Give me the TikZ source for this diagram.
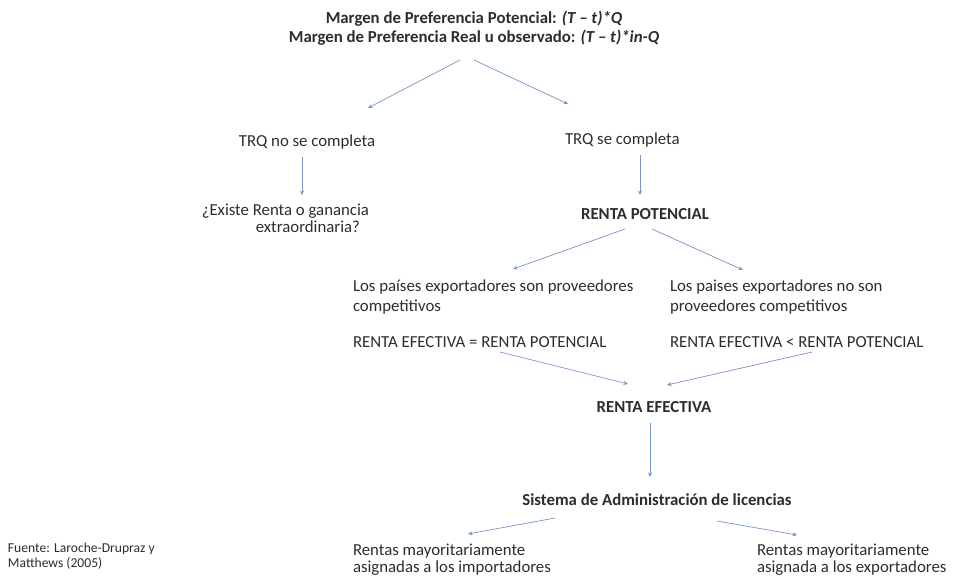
\documentclass[tikz,border=0pt]{standalone}
\usepackage{fontspec}
\setmainfont{Carlito}
\usetikzlibrary{arrows.meta,calc}
\definecolor{txt}{RGB}{45,45,45}
\definecolor{arrc}{RGB}{118,150,198}
\begin{document}
\begin{tikzpicture}[x=1pt,y=-1pt,
  every node/.style={inner sep=0pt,outer sep=0pt,text=txt,font=\fontsize{16.8}{20}\selectfont},
  boldtxt/.style={font=\fontsize{16.8}{20}\selectfont\bfseries},
  twoline/.style={align=left,anchor=north west},
  tightline/.style={font=\fontsize{16.8}{17}\selectfont},
  smalltxt/.style={font=\fontsize{13.6}{15}\selectfont,align=left,anchor=north west},
  arr/.style={draw=arrc,line width=0.7pt,-{Stealth[length=4.5pt,width=4pt]}}]
\fill[white] (0,0) rectangle (956,581);
\useasboundingbox (0,0) rectangle (956,581);

% nodes
\node[boldtxt,align=center,font=\fontsize{16.8}{19}\selectfont\bfseries] (title) at (474,28)
  {Margen de Preferencia Potencial: \textit{(T – t)*Q}\\Margen de Preferencia Real u observado: \textit{(T – t)*in-Q}};
\node (trqno) at (307,142) {TRQ no se completa};
\node[anchor=west] (trqsi) at (565,140) {TRQ se completa};
\node[tightline,align=right,anchor=north east] (existe) at (369,204) {¿Existe Renta o ganancia\\extraordinaria?\hspace*{9pt}};
\node[boldtxt] (rpot) at (645,214) {RENTA POTENCIAL};
\node[twoline] (compet) at (353,280) {Los países exportadores son proveedores\\competitivos};
\node[twoline] (nocompet) at (670,280) {Los paises exportadores no son\\proveedores competitivos};
\node[anchor=west] (renteq) at (353,342) {RENTA EFECTIVA = RENTA POTENCIAL};
\node[anchor=west] (rentlt) at (670,342) {RENTA EFECTIVA < RENTA POTENCIAL};
\node[boldtxt] (refec) at (654,407) {RENTA EFECTIVA};
\node[boldtxt] (sistema) at (657,500) {Sistema de Administración de licencias};
\node[twoline,tightline] (rimp) at (353,544) {Rentas mayoritariamente\\asignadas a los importadores};
\node[twoline,tightline] (rexp) at (757,544) {Rentas mayoritariamente\\asignada a los exportadores};
\node[smalltxt] (fuente) at (8,543) {Fuente: Laroche-Drupraz y\\Matthews (2005)};

% connectors
\draw[arr] ($(title.center)+(-14,32)$) -- ($(trqno.center)+(61,-34)$);
\draw[arr] ($(title.center)+(0,32)$) -- ($(trqsi.west)+(3,-36)$);
\draw[arr] ($(trqno.center)+(-5,15)$) -- ($(existe.north east)+(-67,-9)$);
\draw[arr] ($(trqsi.west)+(75,15)$) -- ($(rpot.center)+(-5,-19)$);
\draw[arr] ($(rpot.center)+(-20,15)$) -- ($(compet.north west)+(160,-11)$);
\draw[arr] ($(rpot.center)+(7,15)$) -- ($(nocompet.north west)+(73,-10)$);
\draw[arr] ($(renteq.west)+(147,10)$) -- ($(refec.center)+(-26,-23)$);
\draw[arr] ($(rentlt.west)+(142,10)$) -- ($(refec.center)+(13,-22)$);
\draw[arr] ($(refec.center)+(-4,16)$) -- ($(sistema.center)+(-7,-23)$);
\draw[arr] ($(sistema.center)+(-102,18)$) -- ($(rimp.north west)+(115,-10)$);
\draw[arr] ($(sistema.center)+(60,21)$) -- ($(rexp.north west)+(40,-9)$);
\end{tikzpicture}
\end{document}
